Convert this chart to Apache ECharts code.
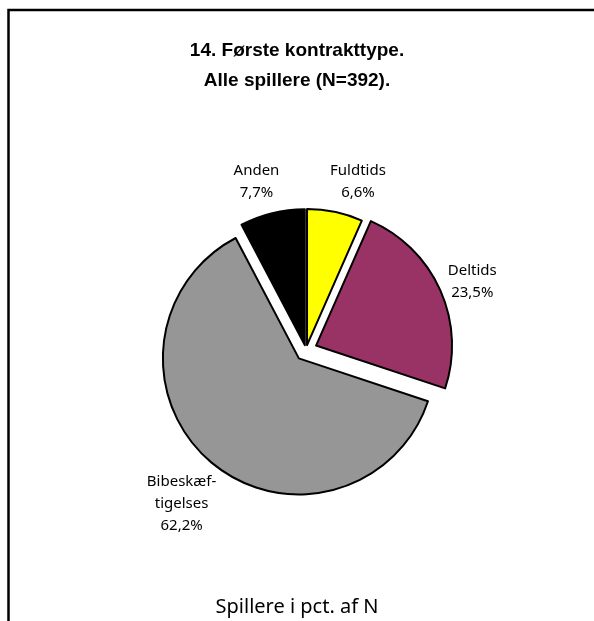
<!DOCTYPE html>
<html>
<head>
<meta charset="utf-8">
<script src="https://cdn.jsdelivr.net/npm/echarts@6/dist/echarts.min.js"></script>
<style>
html,body{margin:0;padding:0;background:#fff;}
#main{width:594px;height:621px;}
</style>
</head>
<body>
<div id="main"></div>
<script>
// Data
var titleLines = ['14. Første kontrakttype.', 'Alle spillere (N=392).'];
var footerText = 'Spillere i pct. af N';
var categories = ['Fuldtids', 'Deltids', 'Bibeskæf-\ntigelses', 'Anden'];
var values = [6.6, 23.5, 62.2, 7.7];
var valueLabels = ['6,6%', '23,5%', '62,2%', '7,7%'];
var colors = ['#FFFF00', '#993366', '#969696', '#000000'];
// which explosion group each slice belongs to (0 = small, 1 = large)
var explodeGroup = [0, 1, 1, 0];
var explodeOffsets = [5, 11];
// label nudges (style only), per slice
var labelNudge = [[13, -7], [5, 1], [-1, 14], [-5, -8]];

var chart = echarts.init(document.getElementById('main'), null, {renderer: 'canvas'});

function buildSeries(g) {
  return {
    type: 'pie',
    center: [306, 350],
    radius: [0, 136],
    startAngle: 90,
    clockwise: true,
    selectedMode: 'multiple',
    selectedOffset: explodeOffsets[g],
    animation: false,
    silent: true,
    emphasis: {disabled: true},
    label: {
      show: true,
      position: 'outside',
      fontFamily: 'Noto Sans',
      fontSize: 15,
      lineHeight: 22,
      color: '#000',
      align: 'center',
      formatter: function (p) { return categories[p.dataIndex] + '\n' + valueLabels[p.dataIndex]; }
    },
    labelLine: {show: false, length: 24, length2: 0},
    labelLayout: function (p) {
      var n = labelNudge[p.dataIndex];
      return {align: 'center', verticalAlign: 'middle', dx: n[0], dy: n[1]};
    },
    data: values.map(function (v, i) {
      var on = explodeGroup[i] === g;
      return {
        value: v,
        name: categories[i],
        selected: on,
        itemStyle: on ? {color: colors[i], borderColor: '#000', borderWidth: 2} : {color: 'rgba(0,0,0,0)', borderWidth: 0},
        label: {show: on},
        labelLine: i === 2 ? {length: 36, length2: 0, show: false} : undefined
      };
    })
  };
}

chart.setOption({
  backgroundColor: '#fff',
  animation: false,
  title: [{
    text: titleLines.join('\n'),
    left: 'center',
    top: 31,
    textStyle: {fontFamily: 'Liberation Sans', fontWeight: 'bold', fontSize: 19, lineHeight: 30, color: '#000'}
  }, {
    text: footerText,
    left: 'center',
    top: 592,
    textStyle: {fontFamily: 'Noto Sans', fontWeight: 'normal', fontSize: 20, color: '#000'}
  }],
  graphic: [{
    type: 'polyline',
    shape: {points: [[8.5, 621], [8.5, 10], [594, 10]]},
    style: {stroke: '#000', lineWidth: 2.5, fill: null},
    silent: true
  }],
  series: [buildSeries(0), buildSeries(1)]
});
</script>
</body>
</html>
